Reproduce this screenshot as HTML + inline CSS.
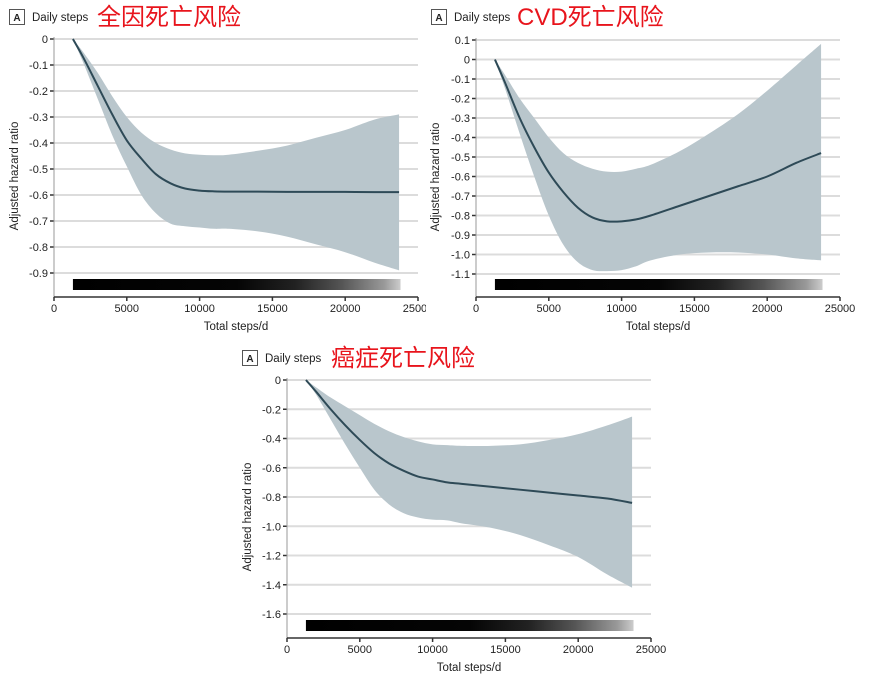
<!DOCTYPE html>
<html><head><meta charset="utf-8"><style>
body{margin:0;background:#fff;width:871px;height:680px;overflow:hidden;position:relative;font-family:"Liberation Sans","Noto Sans CJK SC",sans-serif}
svg{position:absolute;left:0;top:0}
</style></head><body>
<svg id="c1" width="426" height="340" style="left:0;top:0"></svg>
<svg id="c2" width="451" height="340" style="left:420px;top:0"></svg>
<svg id="c3" width="450" height="340" style="left:230px;top:340px"></svg>
<script>
const steps = [1300,2000,3000,4000,5000,6000,7000,8000,9000,10000,11000,12000,14000,16000,18000,20000,22000,23700];
const est1 = [0,-0.07,-0.18,-0.29,-0.39,-0.46,-0.52,-0.555,-0.575,-0.583,-0.586,-0.587,-0.587,-0.588,-0.588,-0.588,-0.589,-0.589];
const up1 = [0,-0.05,-0.13,-0.22,-0.3,-0.36,-0.4,-0.425,-0.44,-0.445,-0.447,-0.445,-0.43,-0.41,-0.38,-0.35,-0.31,-0.29];
const lo1 = [0,-0.09,-0.23,-0.37,-0.49,-0.6,-0.67,-0.71,-0.72,-0.725,-0.73,-0.73,-0.74,-0.76,-0.79,-0.82,-0.86,-0.89];
const est2 = [0,-0.12,-0.3,-0.45,-0.58,-0.68,-0.76,-0.81,-0.83,-0.83,-0.82,-0.8,-0.75,-0.7,-0.65,-0.6,-0.53,-0.48];
const up2 = [0,-0.08,-0.2,-0.3,-0.4,-0.48,-0.53,-0.56,-0.575,-0.575,-0.56,-0.54,-0.47,-0.38,-0.28,-0.16,-0.03,0.08];
const lo2 = [0,-0.15,-0.38,-0.6,-0.8,-0.95,-1.04,-1.08,-1.085,-1.08,-1.06,-1.03,-1.0,-0.99,-0.99,-1.0,-1.02,-1.03];
const est3 = [0,-0.08,-0.2,-0.31,-0.41,-0.5,-0.57,-0.62,-0.66,-0.68,-0.7,-0.71,-0.73,-0.75,-0.77,-0.79,-0.81,-0.84];
const up3 = [0,-0.05,-0.12,-0.18,-0.24,-0.3,-0.35,-0.39,-0.42,-0.44,-0.445,-0.45,-0.45,-0.44,-0.41,-0.37,-0.31,-0.25];
const lo3 = [0,-0.1,-0.27,-0.44,-0.6,-0.75,-0.85,-0.91,-0.94,-0.955,-0.96,-0.98,-1.01,-1.06,-1.13,-1.21,-1.33,-1.42];
const xTicks = [0,5000,10000,15000,20000,25000];
const xTickLabels1 = ["0","5000","10000","15000","20000","25000"];
const yTicks1 = [0,-0.1,-0.2,-0.3,-0.4,-0.5,-0.6,-0.7,-0.8,-0.9];
const yTickLabels1 = ["0","-0.1","-0.2","-0.3","-0.4","-0.5","-0.6","-0.7","-0.8","-0.9"];
const yTicks2 = [0.1,0,-0.1,-0.2,-0.3,-0.4,-0.5,-0.6,-0.7,-0.8,-0.9,-1.0,-1.1];
const yTickLabels2 = ["0.1","0","-0.1","-0.2","-0.3","-0.4","-0.5","-0.6","-0.7","-0.8","-0.9","-1.0","-1.1"];
const yTicks3 = [0,-0.2,-0.4,-0.6,-0.8,-1.0,-1.2,-1.4,-1.6];
const yTickLabels3 = ["0","-0.2","-0.4","-0.6","-0.8","-1.0","-1.2","-1.4","-1.6"];
const rugRange = [1300,23800];
const titles = ["全因死亡风险","CVD死亡风险","癌症死亡风险"];

const NS="http://www.w3.org/2000/svg";
function mk(p,tag,attrs){const e=document.createElementNS(NS,tag);for(const k in attrs)e.setAttribute(k,attrs[k]);p.appendChild(e);return e;}
function smooth(pts){let d="M"+pts[0][0]+","+pts[0][1];for(let i=0;i<pts.length-1;i++){const p0=pts[Math.max(0,i-1)],p1=pts[i],p2=pts[i+1],p3=pts[Math.min(pts.length-1,i+2)];
d+=" C"+(p1[0]+(p2[0]-p0[0])/6)+","+(p1[1]+(p2[1]-p0[1])/6)+" "+(p2[0]-(p3[0]-p1[0])/6)+","+(p2[1]-(p3[1]-p1[1])/6)+" "+p2[0]+","+p2[1];}return d;}

function draw(id,cfg){
 const s=document.getElementById(id);
 const X=v=>cfg.x0+(v/25000)*(cfg.x1-cfg.x0);
 const Y=v=>cfg.yTop+(cfg.yMax-v)/(cfg.yMax-cfg.yMin)*(cfg.yBot-cfg.yTop);
 const g=mk(s,"linearGradient",{id:id+"g",x1:"0",x2:"1",y1:"0",y2:"0"});
 [[0,"#000"],[0.5,"#050505"],[0.68,"#222"],[0.82,"#555"],[0.95,"#999"],[1,"#ccc"]].forEach(st=>mk(g,"stop",{offset:st[0],"stop-color":st[1]}));
 // header
 const b=mk(s,"rect",{x:cfg.bx+0.5,y:cfg.by+0.5,width:15,height:15,fill:"#fff",stroke:"#555"});
 const a=mk(s,"text",{x:cfg.bx+8,y:cfg.by+12,"font-size":"10","font-weight":"bold","text-anchor":"middle",fill:"#222"});a.textContent="A";
 const ds=mk(s,"text",{x:cfg.bx+23,y:cfg.by+12,"font-size":"11.5",fill:"#222"});ds.textContent="Daily steps";
 const t=mk(s,"text",{x:cfg.tx,y:cfg.by+16,"font-size":"24",fill:"#e8141c"});t.textContent=cfg.title;
 // grid + y ticks
 cfg.yt.forEach((v,i)=>{const y=Y(v);
  const gl=mk(s,"line",{x1:cfg.x0,x2:cfg.x1,y1:y,y2:y,stroke:"#dcdcdc","stroke-width":"2"});
  mk(s,"line",{x1:cfg.x0-4,x2:cfg.x0,y1:y,y2:y,stroke:"#333","stroke-width":"1.5"});
  const tl=mk(s,"text",{x:cfg.x0-6,y:y+4,"font-size":"11","text-anchor":"end",fill:"#222"});tl.textContent=cfg.yl[i];
 });
 // band
 const up=steps.map((v,i)=>[X(v),Y(cfg.up[i])]),lo=steps.map((v,i)=>[X(v),Y(cfg.lo[i])]).reverse();
 let d=smooth(up);d+=" L"+lo[0][0]+","+lo[0][1]+smooth(lo).slice(smooth(lo).indexOf(" C"))+" Z";
 const band=mk(s,"path",{d:d,fill:"#b9c6cc"});
 const ln=mk(s,"path",{d:smooth(steps.map((v,i)=>[X(v),Y(cfg.est[i])])),fill:"none",stroke:"#2e4a57","stroke-width":"2"});
 // rug
 const rg=mk(s,"rect",{x:X(rugRange[0]),y:cfg.rugY,width:X(rugRange[1])-X(rugRange[0]),height:11,fill:"url(#"+id+"g)"});
 // axes
 mk(s,"line",{x1:cfg.x0,x2:cfg.x0,y1:cfg.yTop-2,y2:cfg.axY,stroke:"#999","stroke-width":"1"});
 const ax=mk(s,"line",{x1:cfg.x0,x2:cfg.x1,y1:cfg.axY,y2:cfg.axY,stroke:"#333","stroke-width":"1.5"});
 xTicks.forEach((v,i)=>{const x=X(v);mk(s,"line",{x1:x,x2:x,y1:cfg.axY,y2:cfg.axY+4,stroke:"#333","stroke-width":"1.5"});
  const xl=mk(s,"text",{x:x,y:cfg.axY+15,"font-size":"11","text-anchor":"middle",fill:"#222"});xl.textContent=xTickLabels1[i];});
 const xt=mk(s,"text",{x:(cfg.x0+cfg.x1)/2,y:cfg.axY+33,"font-size":"11.5","text-anchor":"middle",fill:"#222"});xt.textContent="Total steps/d";
 const yc=(cfg.yTop+cfg.yBot)/2+20;
 const yt=mk(s,"text",{x:cfg.ytx,y:yc,"font-size":"11.5","text-anchor":"middle",fill:"#222",transform:"rotate(-90 "+cfg.ytx+" "+yc+")"});yt.textContent="Adjusted hazard ratio";
}
draw("c1",{x0:54,x1:418,yTop:39,yBot:273,yMax:0,yMin:-0.9,axY:297,rugY:279,yt:yTicks1,yl:yTickLabels1,est:est1,up:up1,lo:lo1,bx:9,by:9,tx:97,title:titles[0],ytx:18});
draw("c2",{x0:56,x1:420,yTop:40,yBot:274,yMax:0.1,yMin:-1.1,axY:297,rugY:279,yt:yTicks2,yl:yTickLabels2,est:est2,up:up2,lo:lo2,bx:11,by:9,tx:97,title:titles[1],ytx:19});
draw("c3",{x0:57,x1:421,yTop:40,yBot:274,yMax:0,yMin:-1.6,axY:298,rugY:280,yt:yTicks3,yl:yTickLabels3,est:est3,up:up3,lo:lo3,bx:12,by:10,tx:101,title:titles[2],ytx:21});
</script>
</body></html>
